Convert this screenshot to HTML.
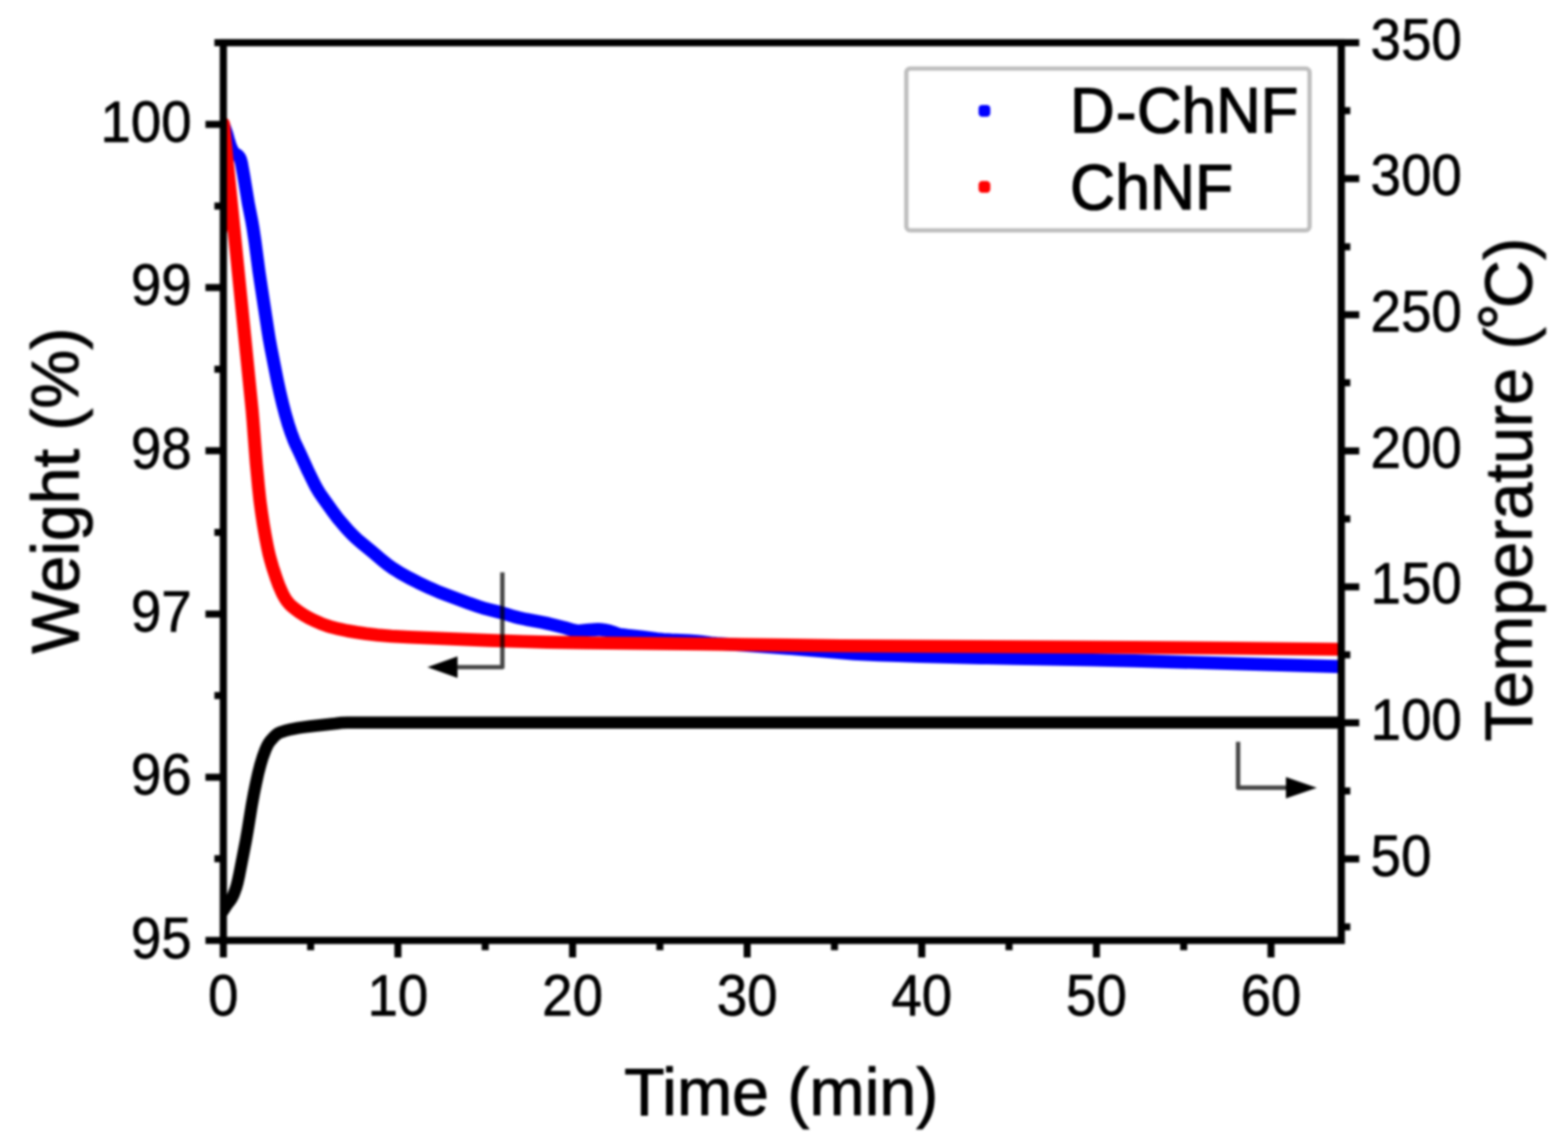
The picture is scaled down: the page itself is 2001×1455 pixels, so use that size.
<!DOCTYPE html>
<html lang="en"><head><meta charset="utf-8"><title>TGA isotherm: weight and temperature vs time</title>
<style>
html,body{margin:0;padding:0;background:#fff;}
body{width:2001px;height:1455px;overflow:hidden;}
svg{display:block;font-family:"Liberation Sans",Arial,Helvetica,sans-serif;}
text{stroke:#000;stroke-linejoin:round;fill:#000;}
.tk{font-size:74.5px;stroke-width:0.8px;}
.ti{font-size:85.5px;stroke-width:1.2px;}
.lg{font-size:82.3px;stroke-width:1.6px;}
</style></head><body>
<svg width="2001" height="1455" viewBox="0 0 2001 1455" role="img" aria-label="Weight (%) and temperature versus time for D-ChNF and ChNF">
<defs><clipPath id="plot"><rect x="285" y="54.5" width="1426.7" height="1145.8"/></clipPath>
<filter id="soft" x="-2%" y="-2%" width="104%" height="104%" color-interpolation-filters="sRGB"><feGaussianBlur stdDeviation="1.8"/></filter>
</defs>
<rect width="2001" height="1455" fill="#fff"/>
<g filter="url(#soft)">
<rect x="1156.6" y="87.4" width="514.6" height="206.6" rx="5" fill="#fff" stroke="#bebebe" stroke-width="5.5"/>
<g clip-path="url(#plot)" fill="none" stroke-linejoin="round" stroke-linecap="round">
<path d="M284.3 1163L289.8 1154.6L294.6 1148.2L296.2 1145.6L297.9 1142.1L299.7 1137.5L301.4 1132.7L303 1126.9L305 1118.1L313.8 1072.9L316.2 1059.2L321.3 1027.6L324 1012.8L326.6 1000.1L329.4 987.4L332.4 975.7L335.3 966.2L338.8 956.8L341.3 951.3L342.8 948.7L343.9 947.1L345.8 944.7L348.5 941.7L351.3 938.8L353.6 936.9L355.2 935.9L357.9 934.7L363.5 932.8L371.5 930.8L380.3 929.1L387.3 928.1L396.2 926.9L428 923.6L436 922.5L443.9 922.3L1716 922.3" stroke="#000000" stroke-width="15.6"/>
<path d="M284.5 158L286.5 162.6L288.2 167.3L289.5 171.1L291.6 178.8L293.1 183.6L294.4 187.4L295.6 190.1L297 192.8L298.7 195.2L299.5 195.9L302.9 197.9L304.4 199.3L305.7 201L306.2 201.8L306.9 203.6L308 207.3L310.9 223.2L316.9 259.7L321.2 281.3L322.9 291.2L325.4 308L330.5 346.6L333.6 367.4L342.2 423.8L343.8 433.6L346 445.4L354.3 487.6L357.3 501.3L360.8 515.9L364.1 528.5L368 541.9L371.5 552.4L375 561.7L377.4 567.2L383 578.9L393.4 601.7L400 615.2L402.7 620.5L405.2 624.8L407.8 629.1L411.2 634.1L424.6 652.8L431.8 662.4L439.6 671.5L444.2 676.8L448.4 681.1L451.9 684.6L456.3 688.7L462.4 693.9L475.5 704.7L487 714.5L494.8 720.7L502.1 725.9L510.6 731.2L521.9 737.5L533.5 743.4L548.9 750.7L559.9 755.5L566.4 758L599.2 770.2L610.6 774.1L619.2 776.8L625 778.3L639.6 781.9L655.8 786.9L662.6 788.6L671.4 790.5L691.1 794.2L699.9 796L721.2 801.3L730.9 804.2L734.8 805L736.8 805.2L739.8 805.2L748.7 804.3L758.7 803.6L763.7 803.4L766.7 803.5L771.7 804.2L778.5 805.7L781.4 806.6L788 809.1L789.9 809.6L792.8 810.1L800.7 811.1L819.7 813L838.6 815.4L846.5 816.2L856.5 816.9L879.5 817.9L889.5 818.5L894.4 818.9L907.3 820.7L914.3 821.3L950.2 823.5L998.1 826.9L1051.9 831.2L1089.8 834.4L1099.8 835L1120.7 835.9L1145.7 836.8L1172.7 837.6L1252.7 839.6L1294.7 840.4L1394.7 842.2L1447.7 843.4L1716 851" stroke="#0000ff" stroke-width="16.6"/>
<path d="M284 152L290 152L296 280L289 298L284 298Z" fill="#ff0000" stroke="none"/>
<path d="M285.2 158L290.5 211.7L321.7 523.2L322.8 536.1L327 591L329.9 621.8L331.7 638.7L333.7 653.6L336.1 669.4L338.8 685.2L341.1 697L343.4 707.7L345.5 715.5L348 724.1L352.7 738.4L355.8 746.9L359.4 755.1L361.1 758.7L363.1 762.3L365.7 766.5L368.8 770.3L372.3 773.8L376.3 777L382 781.2L387.8 785L393.9 788.5L400.2 791.7L409.3 795.7L416.9 798.5L422.6 800.3L432.2 802.7L443 805L454.9 807L466.8 808.7L481.7 810.4L499.6 812L523.6 813.3L624.5 817.4L667.5 818.8L698.5 819.6L749.5 820.4L896.5 822L1074.4 824.2L1160.4 824.8L1358.4 825.7L1446.4 826.2L1571.4 827.2L1716 828.8" stroke="#ff0000" stroke-width="16.6"/>
</g>
<path d="M641.1 730.5 V851.5 H583.9" fill="none" stroke="#000" stroke-opacity="0.73" stroke-width="5.6" stroke-linejoin="round"/>
<path d="M545.4 851.5 L583.9 837.8 L583.9 865.2 Z" fill="#000"/>
<path d="M1580 946.8 V1005.4 H1641" fill="none" stroke="#000" stroke-opacity="0.73" stroke-width="5.6" stroke-linejoin="round"/>
<path d="M1680.5 1005.4 L1641 991.7 L1641 1019.1 Z" fill="#000"/>
<g stroke="#000" fill="none" stroke-linecap="butt">
<rect x="285" y="54.5" width="1426.7" height="1145.8" stroke-width="9.2"/>
<path d="M285.0 1200.3 H262.2 M285.0 1096.1 H273.6 M285.0 992.0 H262.2 M285.0 887.8 H273.6 M285.0 783.7 H262.2 M285.0 679.5 H273.6 M285.0 575.3 H262.2 M285.0 471.2 H273.6 M285.0 367.0 H262.2 M285.0 262.9 H273.6 M285.0 158.7 H262.2 M285.0 54.5 H273.6 M285.0 1200.3 V1222.0 M396.4 1200.3 V1212.7 M507.8 1200.3 V1222.0 M619.2 1200.3 V1212.7 M730.7 1200.3 V1222.0 M842.1 1200.3 V1212.7 M953.5 1200.3 V1222.0 M1064.9 1200.3 V1212.7 M1176.3 1200.3 V1222.0 M1287.7 1200.3 V1212.7 M1399.2 1200.3 V1222.0 M1510.6 1200.3 V1212.7 M1622.0 1200.3 V1222.0 M1711.7 1183.0 H1723.2 M1711.7 1096.2 H1734.6 M1711.7 1009.4 H1723.2 M1711.7 922.6 H1734.6 M1711.7 835.8 H1723.2 M1711.7 749.0 H1734.6 M1711.7 662.2 H1723.2 M1711.7 575.4 H1734.6 M1711.7 488.6 H1723.2 M1711.7 401.7 H1734.6 M1711.7 314.9 H1723.2 M1711.7 228.1 H1734.6 M1711.7 141.3 H1723.2 M1711.7 54.5 H1734.6" stroke-width="9"/>
</g>
<text class="tk" transform="translate(244.60 1222.70) scale(0.937 1)" text-anchor="end">95</text>
<text class="tk" transform="translate(244.60 1014.38) scale(0.937 1)" text-anchor="end">96</text>
<text class="tk" transform="translate(244.60 806.06) scale(0.937 1)" text-anchor="end">97</text>
<text class="tk" transform="translate(244.60 597.74) scale(0.937 1)" text-anchor="end">98</text>
<text class="tk" transform="translate(244.60 389.42) scale(0.937 1)" text-anchor="end">99</text>
<text class="tk" transform="translate(244.60 181.10) scale(0.937 1)" text-anchor="end">100</text>
<text class="tk" transform="translate(1749.10 1117.52) scale(0.937 1)">50</text>
<text class="tk" transform="translate(1749.10 943.90) scale(0.937 1)">100</text>
<text class="tk" transform="translate(1749.10 770.28) scale(0.937 1)">150</text>
<text class="tk" transform="translate(1749.10 596.66) scale(0.937 1)">200</text>
<text class="tk" transform="translate(1749.10 423.04) scale(0.937 1)">250</text>
<text class="tk" transform="translate(1749.10 249.42) scale(0.937 1)">300</text>
<text class="tk" transform="translate(1749.10 75.80) scale(0.937 1)">350</text>
<text class="tk" transform="translate(285.00 1295.50) scale(0.937 1)" text-anchor="middle">0</text>
<text class="tk" transform="translate(507.83 1295.50) scale(0.937 1)" text-anchor="middle">10</text>
<text class="tk" transform="translate(730.66 1295.50) scale(0.937 1)" text-anchor="middle">20</text>
<text class="tk" transform="translate(953.49 1295.50) scale(0.937 1)" text-anchor="middle">30</text>
<text class="tk" transform="translate(1176.32 1295.50) scale(0.937 1)" text-anchor="middle">40</text>
<text class="tk" transform="translate(1399.15 1295.50) scale(0.937 1)" text-anchor="middle">50</text>
<text class="tk" transform="translate(1621.98 1295.50) scale(0.937 1)" text-anchor="middle">60</text>
<text class="ti" transform="translate(997.00 1423.30) scale(0.989 1)" text-anchor="middle">Time (min)</text>
<text class="ti" transform="translate(100.20 626.35) rotate(-90) scale(0.988 1)" text-anchor="middle">Weight (%)</text>
<text class="ti" transform="translate(1954.50 624.95) rotate(-90) scale(0.9933 1)" text-anchor="middle">Temperature (<tspan dx="-3.4" dy="-8">°</tspan><tspan dx="-6" dy="8">C)</tspan></text>
<rect x="1248.8" y="134" width="15" height="15" rx="4.5" fill="#0000ff"/>
<rect x="1248.8" y="231.1" width="15" height="15" rx="4.5" fill="#ff0000"/>
<text class="lg" transform="translate(1365.60 169.30) scale(0.9586 1)">D<tspan dx="1.5" dy="1.7">-</tspan><tspan dx="0.8" dy="-1.7">ChNF</tspan></text>
<text class="lg" transform="translate(1365.60 267.30) scale(0.968 1)">ChNF</text>
</g>
</svg>
</body></html>
